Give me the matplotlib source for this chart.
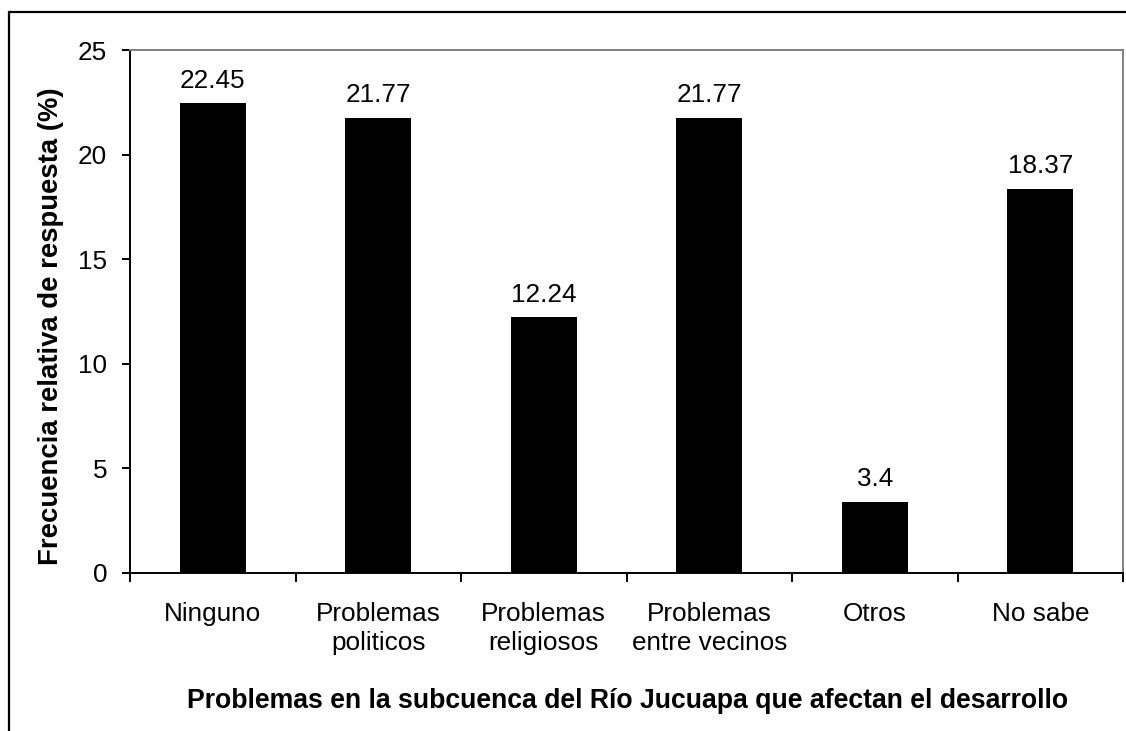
import matplotlib
matplotlib.use("Agg")
import matplotlib.pyplot as plt
from matplotlib.patches import Rectangle
import numpy as np

categories = ["Ninguno", "Problemas\npoliticos", "Problemas\nreligiosos",
              "Problemas\nentre vecinos", "Otros", "No sabe"]
values = [22.45, 21.77, 12.24, 21.77, 3.4, 18.37]
value_labels = ["22.45", "21.77", "12.24", "21.77", "3.4", "18.37"]
y_ticks = [0, 5, 10, 15, 20, 25]

plt.rcParams["font.family"] = ["Liberation Sans", "DejaVu Sans"]
plt.rcParams["font.size"] = 18.8

fig = plt.figure(figsize=(11.26, 7.31), dpi=100)
ax = fig.add_axes([130 / 1126, 1 - 573 / 731, (1123 - 130) / 1126, (573 - 50) / 731])

x = np.arange(len(categories))
bars = ax.bar(x, values, width=0.4, color="black")

for bar, label in zip(bars, value_labels):
    ax.annotate(label, (bar.get_x() + bar.get_width() / 2, bar.get_height()),
                xytext=(0, 7.5), textcoords="offset points",
                ha="center", va="bottom", fontsize=18.8)

ax.set_xlim(-0.5, len(categories) - 0.5)
ax.set_ylim(0, 25)
ax.set_yticks(y_ticks)
ax.set_xticks(x)
ax.set_xticklabels(categories, linespacing=1.25)
ax.set_xticks(np.arange(-0.5, len(categories)), minor=True)
ax.tick_params(axis="x", which="major", length=0, pad=21)
ax.tick_params(axis="x", which="minor", length=6.5, width=1.4, direction="out")
ax.tick_params(axis="y", length=5.5, width=1.4, pad=11)

for side in ("left", "bottom"):
    ax.spines[side].set_color("black")
    ax.spines[side].set_linewidth(1.4)
for side in ("top", "right"):
    ax.spines[side].set_color("#808080")
    ax.spines[side].set_linewidth(1.4)

fig.text(51 / 1126, 1 - 326 / 731, "Frecuencia relativa de respuesta (%)",
         rotation=90, ha="center", va="center", fontweight="bold", fontsize=19.8)
fig.text(628 / 1126, 1 - 701 / 731,
         "Problemas en la subcuenca del Río Jucuapa que afectan el desarrollo",
         ha="center", va="center", fontweight="bold", fontsize=19.2)

# outer chart frame, only left and top edges fall inside the image
frame = Rectangle((9 / 1126, -0.1), 1.2, 1 - 12 / 731 + 0.1,
                  transform=fig.transFigure, fill=False, edgecolor="black",
                  linewidth=1.6, clip_on=False)
fig.patches.append(frame)

fig.savefig("out.png", dpi=100)
